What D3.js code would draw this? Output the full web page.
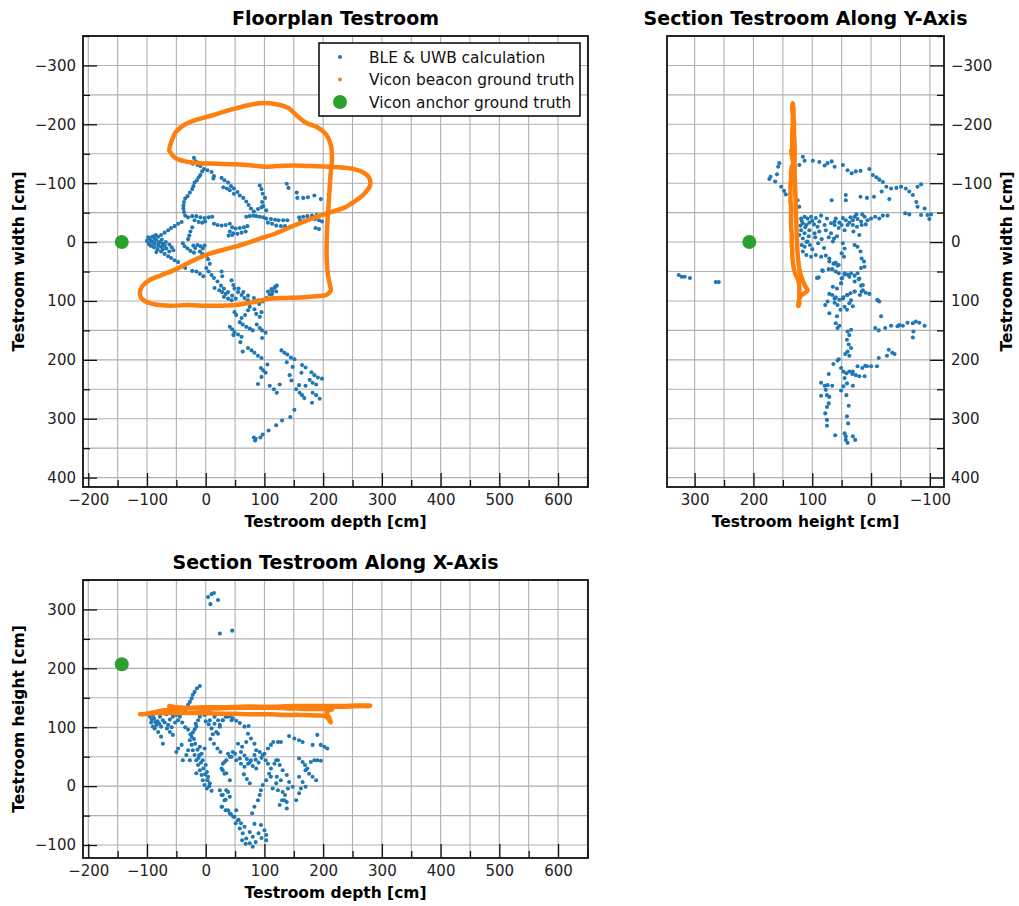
<!DOCTYPE html>
<html>
<head>
<meta charset="utf-8">
<script src="https://cdn.jsdelivr.net/npm/d3@7"></script>
<style>
  body { margin: 0; background: #fff; }
  svg { display: block; font-family: "DejaVu Sans", sans-serif; }
</style>
</head>
<body>
<svg id="fig" width="1019" height="906"></svg>
<script>
// ---- Tick values (cm) ----
const depthTicks = [-200, -100, 0, 100, 200, 300, 400, 500, 600];
const depthMinor = [-150, -50, 50, 150, 250, 350, 450, 550, 650];
const widthTicks = [-300, -200, -100, 0, 100, 200, 300, 400];
const widthMinor = [-350, -250, -150, -50, 50, 150, 250, 350];
const heightTicks = [-100, 0, 100, 200, 300];
const heightMinor = [-50, 50, 150, 250, 350];

// ---- Vicon anchor (cm) ----
const anchorDepth = -143;
const anchorWidth = 0;
const anchorHeight = 207;

// ---- Vicon beacon trajectory (cm) ----
const gtDepth = [-62, -58, -50, -35, -15, 10, 40, 70, 97, 120, 140, 155, 170, 190, 205, 213, 215, 213, 211, 209, 207, 206, 206, 208, 212, 213,
  205, 190, 160, 130, 110, 90, 70, 50, 25, 0, -30, -60, -85, -100, -110, -112, -108, -95, -75,
  -50, -25, 0, 30, 60, 90, 120, 150, 180, 210, 235, 255, 270, 280, 278, 265, 240, 210, 180, 150, 120, 100, 80, 50, 20, -10, -35, -52, -62];
const gtWidth = [-158, -172, -188, -200, -208, -215, -224, -232, -236, -234, -228, -215, -203, -195, -183, -165, -140, -120, -90, -60, -30, 0, 30, 55, 75, 82,
  90, 92, 94, 95, 96, 100, 104, 107, 108, 108, 107, 108, 106, 102, 95, 85, 75, 64, 56,
  46, 33, 22, 13, 5, -5, -15, -28, -40, -50, -58, -70, -82, -97, -110, -120, -126, -128, -129, -130, -129, -128, -130, -132, -133, -134, -137, -143, -155];
const gtHeight = [134, 134, 134, 133, 133, 133, 134, 134, 133, 133, 132, 132, 131, 131, 131, 130, 130, 130, 129, 128, 127, 126, 124, 120, 112, 108,
  118, 120, 121, 121, 122, 122, 122, 123, 123, 124, 124, 124, 124, 123, 122, 122, 122, 124, 128,
  131, 133, 134, 134, 135, 135, 135, 136, 136, 136, 136, 137, 137, 137, 136, 136, 135, 135, 134, 133, 133, 133, 133, 133, 132, 132, 133, 134, 136];

// ---- BLE & UWB estimates, floorplan view: [depth, width] ----
const bleFloorplan = [
  [-20,-143],[-17,-137],[-22,-133],[-14,-131],[-9,-129],[-3,-124],[3,-122],[10,-119],[14,-112],[13,-108],
  [-6,-120],[-9,-114],[-12,-110],[-15,-105],[-19,-101],[-21,-95],[-23,-90],[-27,-84],[-31,-78],[-35,-74],[-37,-68],[-38,-62],[-38,-57],[-37,-51],[-35,-45],
  [-30,-42],[-23,-44],[-16,-44],[-9,-42],[-2,-41],[5,-42],[11,-43],[-19,-37],[-12,-34],[-6,-33],[-1,-35],
  [-41,-34],[-47,-31],[-53,-27],[-59,-24],[-64,-20],[-70,-16],[-76,-12],[-81,-9],[-87,-6],[-93,-2],[-97,3],[-94,6],[-88,9],[-82,12],[-76,16],[-70,20],[-64,24],[-59,27],[-53,31],[-47,34],
  [-90,0],[-84,-3],[-78,0],[-73,3],[-70,6],[-81,6],[-87,3],[-76,8],[-67,11],[-93,6],[-84,17],[-73,12],
  [-100,-2],[-96,-6],[-91,-9],[-85,-12],[-80,2],[-75,-4],[-68,0],[-62,4],[-58,9],[-55,14],[-62,16],[-98,-8],[-88,-10],
  [-23,-25],[-26,-18],[-28,-11],[-30,-5],[-39,2],[-36,7],[-31,11],[-26,15],[-20,18],[-14,5],[-9,7],[-5,11],[-2,6],[-10,16],[-6,20],[-21,6],[-18,10],
  [1,23],[4,29],[7,37],[1,44],[5,50],[10,56],[14,61],[20,67],[26,74],[31,79],[38,85],[45,91],[51,96],[-10,54],[-4,58],[-16,50],[-23,49],[-35,44],[27,50],[28,58],[44,65],[47,73],[56,79],[64,85],[72,91],[82,95],[106,84],[112,80],[118,76],[120,84],[113,88],
  [27,-109],[32,-105],[38,-101],[43,-95],[48,-91],[54,-85],[58,-79],[64,-75],[69,-69],[73,-63],[77,-57],[82,-52],[89,-56],[95,-59],[30,-93],[36,-91],[41,-88],[48,-82],
  [92,-96],[95,-90],[97,-82],[101,-75],[96,-68],[98,-61],[103,-54],[138,-99],[141,-92],[155,-84],[156,-75],[166,-75],[174,-76],[185,-79],[196,-73],
  [69,-43],[75,-44],[81,-45],[86,-44],[92,-43],[98,-42],[103,-40],[111,-39],[118,-38],[124,-37],[132,-37],[139,-37],[106,-33],[113,-31],[120,-28],[128,-27],[135,-27],
  [159,-42],[166,-43],[173,-44],[181,-45],[189,-46],[186,-39],[193,-37],[198,-35],[187,-24],[193,-22],[161,-37],[170,-35],
  [14,-31],[20,-29],[27,-28],[34,-29],[41,-31],[45,-25],[51,-23],[58,-24],[65,-25],[71,-27],[41,-18],[47,-15],[54,-14],[61,-16],[68,-18],[39,-11],[45,-12],
  [15,78],[23,82],[28,85],[34,88],[31,93],[38,96],[44,99],[49,79],[55,85],[61,90],[66,95],[72,99],[109,89],[113,83],[117,78],[121,74],[103,95],[97,101],[91,105],[89,99],
  [75,110],[72,116],[67,124],[61,129],[52,124],[49,119],[58,136],[63,140],[69,144],[75,147],[80,150],[41,144],[45,148],[49,153],[55,157],[61,161],[47,158],[87,140],[92,146],[96,150],[102,154],[96,163],[92,127],[95,119],[86,122],[83,114],
  [59,170],[63,186],[72,180],[78,184],[83,188],[89,193],[95,197],[94,214],[98,218],[102,222],[105,208],[95,229],[89,241],
  [129,184],[134,188],[139,191],[145,196],[151,199],[138,204],[148,212],[143,226],[146,235],[164,209],[170,213],[163,222],[180,221],[185,226],[191,230],[198,232],[177,234],[182,239],[188,242],[170,244],
  [160,256],[164,260],[168,265],[182,256],[188,260],[194,266],[181,273],[109,244],[116,250],[121,256],[126,242],[154,250],[159,243],
  [151,285],[144,297],[130,303],[120,311],[107,320],[97,327],[93,332],[85,334],[82,332],[84,337]
];

// ---- BLE & UWB estimates, section along Y: [height, width] ----
const bleSectionY = [
  [156,-134],[158,-128],[160,-115],[171,-111],[173,-107],[163,-103],[153,-94],[148,-87],[145,-81],[116,-145],[113,-138],[122,-131],[99,-138],[88,-136],[79,-130],[74,-134],[67,-137],[62,-128],[48,-131],[40,-122],[33,-117],[26,-120],[18,-121],[3,-124],
  [-3,-114],[-9,-110],[-14,-106],[-20,-102],[-26,-94],[-34,-91],[-43,-92],[-51,-94],[-59,-91],[-65,-86],[-71,-80],[-79,-94],[-85,-98],[-77,-68],[-79,-60],[-91,-57],[-85,-46],[-96,-46],[-102,-47],[-99,-39],[-65,-47],[-58,-49],
  [67,-71],[43,-80],[43,-71],[18,-77],[7,-75],[-5,-77],[-18,-86],[-31,-73],[130,-86],[125,-71],[122,-60],
  [119,-40],[113,-43],[108,-40],[102,-43],[94,-41],[85,-45],[116,-32],[110,-29],[105,-33],[97,-30],[91,-26],[79,-29],[68,-32],[62,-35],[54,-33],[48,-41],[43,-37],[37,-33],[31,-37],[28,-43],[23,-39],[17,-35],[11,-43],[6,-37],[0,-40],[-7,-43],[-14,-40],[-20,-45],[-28,-45],[31,-29],[24,-26],[16,-29],[9,-30],[62,-29],[50,-29],[40,-29],
  [118,-36],[112,-25],[106,-10],[110,0],[104,5],[100,12],[118,5],[122,-12],[120,-28],[100,-36],[88,-35],[95,-8],[90,2],[84,-5],[80,10],[72,-8],[58,-10],[55,-24],[45,-20],[30,-18],[20,-12],[35,-42],[25,-47],[15,-47],[60,-40],[75,-40],
  [119,-20],[113,-15],[116,-6],[108,-1],[113,8],[116,16],[110,22],[102,25],[94,22],[85,25],[77,23],[71,28],[105,-20],[96,-15],[88,-18],[77,-20],[68,-15],[63,-6],[65,-1],[82,49],[62,36],[57,40],[48,2],[45,11],[50,19],[46,25],[28,5],[23,8],[18,16],[16,28],[12,33],
  [92,61],[65,76],[58,79],[51,70],[50,62],[45,53],[37,59],[28,67],[20,62],[14,73],[16,84],[28,84],[40,90],[48,96],[62,96],[74,101],[-11,99],
  [71,33],[64,37],[60,35],[55,39],[66,46],[60,50],[55,53],[49,61],[45,55],[40,55],[34,53],[28,57],[23,53],[17,44],[11,42],[83,48],[89,60],[72,46],[51,70],[21,63],[17,74],[14,82],[9,86],[3,88],[19,90],[28,84],[35,87],[41,90],[47,94],[54,98],[60,94],[66,90],[71,88],
  [62,103],[57,107],[52,115],[45,110],[41,115],[37,104],[31,109],[34,99],[-11,98],[-14,101],[78,107],[71,121],[58,126],[60,138],[57,146],[54,142],
  [-17,126],[-7,146],[-13,150],[-24,146],[-34,142],[-45,143],[-54,142],[-62,137],[-71,138],[-76,135],[-82,137],[-91,142],[-72,152],[-71,162],[-48,141],
  [40,152],[34,149],[37,158],[41,166],[38,174],[34,180],[40,186],[44,190],[37,193],[55,199],[57,201],[64,207],[51,214],[47,220],[42,223],[37,220],[31,220],[23,211],[15,214],[10,210],[7,211],[0,211],[-10,211],[-13,197],[-27,193],[-30,183],[-36,188],[-40,190],
  [72,224],[45,231],[41,240],[31,244],[32,224],[26,226],[20,228],[11,228],[85,239],[79,244],[74,243],[77,251],[75,260],[71,263],[66,244],[85,261],[72,274],[75,280],[78,291],[42,260],[38,278],[41,296],[39,308],[75,302],[75,312],
  [61,328],[45,325],[43,330],[43,336],[40,341],[31,330],[27,336],[47,245],[51,252],
  [327,56],[322,59],[317,59],[308,61],[264,68],[259,68]
];

// ---- BLE & UWB estimates, section along X: [depth, height] ----
const bleSectionX = [
  [4,321],[10,326],[14,328],[8,309],[21,316],[24,259],[45,264],
  [-10,170],[-15,166],[-19,160],[-22,155],[-24,149],[-27,143],[-30,138],[-33,132],[-36,127],[-70,128],[-67,122],[-90,121],[-92,113],[-86,109],[-84,104],[-90,101],[-78,118],[-73,112],[-76,101],[-81,92],[-76,84],[-73,72],
  [-95,118],[-88,115],[-82,110],[-79,106],[-87,98],[-93,108],[-70,108],[-66,98],[-58,100],[-52,108],[-47,112],[-40,108],[-35,100],[-30,96],[-26,88],[-20,80],[-18,72],[-14,62],[-12,48],[-8,40],[-4,30],[-1,20],[3,10],[6,0],[10,-8],
  [-61,113],[-56,118],[-50,121],[-44,118],[-64,104],[-61,92],[-56,87],[-47,64],[-50,58],[-39,44],[-41,70],[-27,78],[-24,84],[-22,91],[-19,96],[-16,101],[-24,70],[-22,61],[-19,53],[-16,44],[-13,36],[-10,27],[-7,19],[-16,22],[-5,10],[-2,2],[2,-4],[4,16],[7,5],
  [-30,61],[-33,53],[-27,44],[-10,67],[-7,55],[-11,53],[-2,64],[-5,44],[0,36],[2,24],[-17,106],[-13,112],[-10,118],[1,123],[7,126],[15,118],[21,112],[24,104],[29,112],[38,118],[44,112],[21,89],
  [0,110],[5,105],[10,98],[12,88],[8,80],[14,72],[20,64],[25,58],
  [38,55],[44,50],[50,55],[32,41],[29,27],[35,22],[24,-7],[27,-15],[34,-23],[38,-10],[41,-18],[27,-35],[34,-41],[41,-46],[47,-52],[52,-41],
  [-2,121],[7,112],[15,106],[18,92],[24,101],[29,112],[34,118],[41,119],[46,115],[52,111],[58,107],[66,101],[73,102],[72,89],[77,81],[83,72],[69,75],[62,67],[55,72],[46,58],[41,50],[35,44],[29,38],[27,30],[32,21],[41,10],
  [60,58],[66,52],[70,46],[75,40],[80,34],[86,30],[90,40],[95,48],[100,55],[85,45],[65,20],[70,12],[75,5],
  [35,-7],[29,-15],[32,-24],[28,-35],[38,-41],[43,-48],[49,-52],[55,-58],[60,-63],[66,-69],[75,-78],[80,-86],[75,-97],[80,-103],[100,-75],[103,-83],[103,-92],[94,-66],[83,-64],[56,-57],[51,-63],[58,-72],[63,-80],[69,-89],
  [62,-92],[68,-98],[85,-95],[90,-80],[95,-88],
  [79,-46],[83,-35],[89,-24],[92,-15],[94,-7],[97,2],[103,10],[108,21],[111,30],[117,38],[123,44],[106,38],[102,44],[97,53],[92,58],[86,61],[83,53],[77,44],[72,38],[66,33],[60,38],[52,44],[58,47],
  [106,64],[111,70],[115,75],[123,75],[128,75],[120,44],[126,36],[131,27],[138,19],[142,7],[148,-1],[140,-4],[135,-15],[130,-24],[126,-32],[138,-38],
  [142,85],[151,81],[159,78],[165,75],[182,70],[190,87],[196,70],[202,67],[207,64],[159,47],[165,41],[169,36],[173,30],[179,41],[185,44],[190,44],[196,43],
  [170,27],[176,21],[182,16],[188,10],[159,16],[165,7],[170,-1],[159,-12],[154,-24],[162,-4],[128,10],[120,5],[114,-4],[123,-7],[131,-10],[134,-24],[138,-27],[111,16],[121,16]
];

const COLORS = { ble: "#1f77b4", gt: "#ff7f0e", anchor: "#2ca02c" };
const svg = d3.select("#fig");

// Scales for the three panels
const xDepth = d3.scaleLinear().domain([-209, 651]).range([83, 588]);
const yWidth = d3.scaleLinear().domain([-350, 416]).range([36, 487]);
const xHeight = d3.scaleLinear().domain([347, -124]).range([667, 944]);
const xDepth3 = d3.scaleLinear().domain([-209, 651]).range([83, 588]);
const yHeight = d3.scaleLinear().domain([-122, 350]).range([858, 580]);

const gtPoints = gtDepth.map((d, i) => ({ depth: d, width: gtWidth[i], height: gtHeight[i] }));

function inDomain(scale, v) {
  const [a, b] = d3.extent(scale.domain());
  return v >= a && v <= b;
}

// Frame, grid and ticks of one panel
function panel(x, y, opt) {
  const [xl, xr] = [Math.min(...x.range()), Math.max(...x.range())];
  const [yt, yb] = [Math.min(...y.range()), Math.max(...y.range())];
  const g = svg.append("g");

  const grid = g.append("g").attr("stroke", "#b0b0b0").attr("stroke-width", 1.1);
  opt.xGrid.filter(v => inDomain(x, v)).forEach(v => {
    grid.append("line").attr("x1", x(v)).attr("x2", x(v)).attr("y1", yt).attr("y2", yb);
  });
  opt.yGrid.filter(v => inDomain(y, v)).forEach(v => {
    grid.append("line").attr("y1", y(v)).attr("y2", y(v)).attr("x1", xl).attr("x2", xr);
  });

  const data = g.append("g");
  const over = svg.append("g");

  // ticks pointing into the plot area
  const fmt = d3.format("d");
  const xMajor = d3.axisBottom(x).tickValues(opt.xTicks).tickSize(-14).tickPadding(7).tickFormat(fmt);
  const xMinor = d3.axisBottom(x).tickValues(opt.xMinor.filter(v => inDomain(x, v))).tickSize(-7).tickFormat("");
  const ax = over.append("g").attr("transform", `translate(0,${yb})`);
  ax.call(xMajor);
  ax.append("g").call(xMinor);

  const side = opt.ySide === "right";
  const yAxisFn = side ? d3.axisRight : d3.axisLeft;
  const ay = over.append("g").attr("transform", `translate(${side ? xr : xl},0)`);
  ay.call(yAxisFn(y).tickValues(opt.yTicks).tickSize(-14).tickPadding(7).tickFormat(fmt));
  ay.append("g").call(yAxisFn(y).tickValues(opt.yMinor.filter(v => inDomain(y, v))).tickSize(-7).tickFormat(""));

  over.selectAll(".domain").remove();
  over.selectAll(".tick line").attr("stroke", "#111").attr("stroke-width", 1.3);
  over.selectAll(".tick text").attr("fill", "#222").style("font-family", "DejaVu Sans").style("font-size", "15px");
  over.selectAll("g").attr("font-family", null).attr("font-size", null);

  over.append("rect").attr("x", xl).attr("y", yt).attr("width", xr - xl).attr("height", yb - yt)
    .attr("fill", "none").attr("stroke", "#111").attr("stroke-width", 1.8);

  // titles and axis labels
  over.append("text").attr("x", (xl + xr) / 2).attr("y", yt - 11).attr("text-anchor", "middle")
    .style("font-size", "19px").style("font-weight", "bold").text(opt.title);
  over.append("text").attr("x", (xl + xr) / 2).attr("y", yb + 40).attr("text-anchor", "middle")
    .style("font-size", "15.5px").style("font-weight", "bold").text(opt.xLabel);
  const ylx = side ? opt.yLabelX : 24;
  over.append("text").attr("transform", `translate(${ylx},${(yt + yb) / 2}) rotate(-90)`).attr("text-anchor", "middle")
    .style("font-size", "15.5px").style("font-weight", "bold").text(opt.yLabel);

  return { data, over };
}

function drawBle(layer, pts, x, y) {
  layer.append("g").selectAll("circle").data(pts).join("circle")
    .attr("cx", d => x(d[0])).attr("cy", d => y(d[1])).attr("r", 2.05).attr("fill", COLORS.ble);
}
function drawTrack(layer, xAcc, yAcc) {
  layer.append("path").datum(gtPoints)
    .attr("d", d3.line().x(xAcc).y(yAcc).curve(d3.curveCatmullRom))
    .attr("fill", "none").attr("stroke", COLORS.gt).attr("stroke-width", 4.5)
    .attr("stroke-linejoin", "round").attr("stroke-linecap", "round");
}

// ---- Panel 1: floorplan ----
const p1 = panel(xDepth, yWidth, {
  xTicks: depthTicks, xMinor: depthMinor, xGrid: depthTicks.concat(depthMinor),
  yTicks: widthTicks, yMinor: widthMinor, yGrid: widthTicks.concat(widthMinor),
  title: "Floorplan Testroom", xLabel: "Testroom depth [cm]", yLabel: "Testroom width [cm]"
});
drawBle(p1.data, bleFloorplan, xDepth, yWidth);
drawTrack(p1.data, d => xDepth(d.depth), d => yWidth(d.width));
p1.data.append("circle").attr("cx", xDepth(anchorDepth)).attr("cy", yWidth(anchorWidth)).attr("r", 7).attr("fill", COLORS.anchor);

// legend
const lg = p1.over.append("g");
lg.append("rect").attr("x", 319).attr("y", 43).attr("width", 261).attr("height", 73)
  .attr("fill", "#fff").attr("stroke", "#111").attr("stroke-width", 1.6);
const legendItems = [
  { label: "BLE & UWB calculation", color: COLORS.ble, r: 2 },
  { label: "Vicon beacon ground truth", color: COLORS.gt, r: 2 },
  { label: "Vicon anchor ground truth", color: COLORS.anchor, r: 7 }
];
legendItems.forEach((it, i) => {
  const cy = 57 + i * 22.5;
  lg.append("circle").attr("cx", 340).attr("cy", cy).attr("r", it.r).attr("fill", it.color);
  lg.append("text").attr("x", 369).attr("y", cy + 5.5).style("font-size", "15.4px").attr("fill", "#111").text(it.label);
});

// ---- Panel 2: section along Y ----
const p2 = panel(xHeight, yWidth, {
  xTicks: [300, 200, 100, 0, -100], xMinor: [250, 150, 50, -50], xGrid: [300, 250, 200, 150, 100, 50, 0, -50, -100],
  yTicks: widthTicks, yMinor: widthMinor, yGrid: widthTicks.concat(widthMinor), ySide: "right", yLabelX: 1012,
  title: "Section Testroom Along Y-Axis", xLabel: "Testroom height [cm]", yLabel: "Testroom width [cm]"
});
drawBle(p2.data, bleSectionY, xHeight, yWidth);
drawTrack(p2.data, d => xHeight(d.height), d => yWidth(d.width));
p2.data.append("circle").attr("cx", xHeight(anchorHeight)).attr("cy", yWidth(anchorWidth)).attr("r", 7).attr("fill", COLORS.anchor);

// ---- Panel 3: section along X ----
const p3 = panel(xDepth3, yHeight, {
  xTicks: depthTicks, xMinor: depthMinor, xGrid: depthTicks.concat(depthMinor),
  yTicks: heightTicks, yMinor: heightMinor, yGrid: heightTicks.concat(heightMinor),
  title: "Section Testroom Along X-Axis", xLabel: "Testroom depth [cm]", yLabel: "Testroom height [cm]"
});
drawBle(p3.data, bleSectionX, xDepth3, yHeight);
drawTrack(p3.data, d => xDepth3(d.depth), d => yHeight(d.height));
p3.data.append("circle").attr("cx", xDepth3(anchorDepth)).attr("cy", yHeight(anchorHeight)).attr("r", 7).attr("fill", COLORS.anchor);
</script>
</body>
</html>
